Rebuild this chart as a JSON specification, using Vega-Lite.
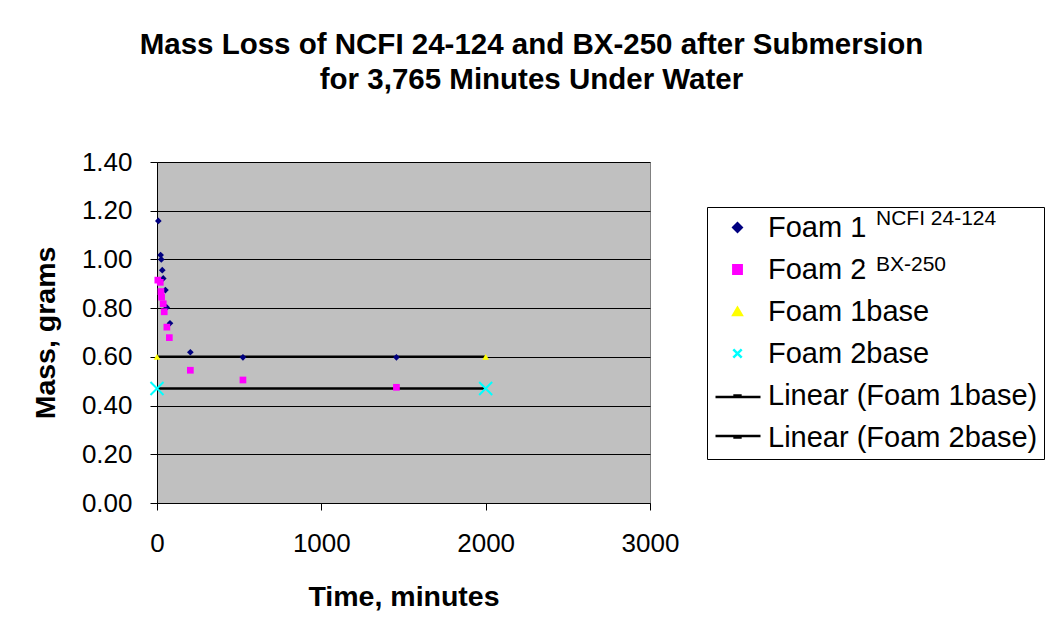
{
  "$schema": "https://vega.github.io/schema/vega-lite/v6.json",
  "width": 493,
  "height": 341,
  "autosize": {"type": "none"},
  "padding": {"left": 157, "top": 162, "right": 395, "bottom": 133},
  "background": "white",
  "config": {
    "font": "Liberation Sans",
    "view": {"stroke": "#808080", "fill": "#C0C0C0", "strokeWidth": 1}
  },
  "title": {
    "text": ["Mass Loss of NCFI 24-124 and BX-250 after Submersion", "for 3,765 Minutes Under Water"],
    "font": "Liberation Sans",
    "fontSize": 29.5,
    "fontWeight": "bold",
    "color": "black",
    "anchor": "middle",
    "dx": 128,
    "lineHeight": 35,
    "offset": 54
  },
  "data": {
    "values": [
      {"series": "Foam 1", "grade": "NCFI 24-124", "time": 8, "mass": 1.158},
      {"series": "Foam 1", "grade": "NCFI 24-124", "time": 22, "mass": 1.018},
      {"series": "Foam 1", "grade": "NCFI 24-124", "time": 26, "mass": 1.0},
      {"series": "Foam 1", "grade": "NCFI 24-124", "time": 32, "mass": 0.956},
      {"series": "Foam 1", "grade": "NCFI 24-124", "time": 38, "mass": 0.922},
      {"series": "Foam 1", "grade": "NCFI 24-124", "time": 51, "mass": 0.874},
      {"series": "Foam 1", "grade": "NCFI 24-124", "time": 59, "mass": 0.803},
      {"series": "Foam 1", "grade": "NCFI 24-124", "time": 79, "mass": 0.738},
      {"series": "Foam 1", "grade": "NCFI 24-124", "time": 203, "mass": 0.619},
      {"series": "Foam 1", "grade": "NCFI 24-124", "time": 523, "mass": 0.598},
      {"series": "Foam 1", "grade": "NCFI 24-124", "time": 1457, "mass": 0.598},
      {"series": "Foam 2", "grade": "BX-250", "time": 5, "mass": 0.915},
      {"series": "Foam 2", "grade": "BX-250", "time": 20, "mass": 0.906},
      {"series": "Foam 2", "grade": "BX-250", "time": 24, "mass": 0.868},
      {"series": "Foam 2", "grade": "BX-250", "time": 28, "mass": 0.845},
      {"series": "Foam 2", "grade": "BX-250", "time": 38, "mass": 0.818},
      {"series": "Foam 2", "grade": "BX-250", "time": 44, "mass": 0.785},
      {"series": "Foam 2", "grade": "BX-250", "time": 60, "mass": 0.722},
      {"series": "Foam 2", "grade": "BX-250", "time": 75, "mass": 0.679},
      {"series": "Foam 2", "grade": "BX-250", "time": 203, "mass": 0.545},
      {"series": "Foam 2", "grade": "BX-250", "time": 523, "mass": 0.505},
      {"series": "Foam 2", "grade": "BX-250", "time": 1457, "mass": 0.475},
      {"series": "Foam 1base", "grade": "NCFI 24-124", "time": 0, "mass": 0.6},
      {"series": "Foam 1base", "grade": "NCFI 24-124", "time": 2000, "mass": 0.6},
      {"series": "Foam 2base", "grade": "BX-250", "time": 0, "mass": 0.47},
      {"series": "Foam 2base", "grade": "BX-250", "time": 2000, "mass": 0.47},
      {"series": "Linear (Foam 1base)", "grade": "NCFI 24-124", "fit": "Foam 1base", "time": 0, "mass": 0.6},
      {"series": "Linear (Foam 1base)", "grade": "NCFI 24-124", "fit": "Foam 1base", "time": 2000, "mass": 0.6},
      {"series": "Linear (Foam 2base)", "grade": "BX-250", "fit": "Foam 2base", "time": 0, "mass": 0.47},
      {"series": "Linear (Foam 2base)", "grade": "BX-250", "fit": "Foam 2base", "time": 2000, "mass": 0.47}
    ]
  },
  "layer": [
    {
      "transform": [{"filter": "indexof(datum.series, 'Linear') === 0"}],
      "mark": {"type": "line", "strokeWidth": 2.5},
      "encoding": {
        "x": {
          "field": "time",
          "type": "quantitative",
          "scale": {"domain": [0, 3000], "nice": false},
          "axis": {
            "title": "Time, minutes",
            "values": [0, 1000, 2000, 3000],
            "format": "d",
            "grid": false,
            "labelFont": "Liberation Sans",
            "labelFontSize": 26,
            "labelColor": "black",
            "labelPadding": 20,
            "labelFlush": false,
            "tickSize": 7,
            "tickColor": "black",
            "domainColor": "black",
            "titleFont": "Liberation Sans",
            "titleFontSize": 28.5,
            "titleFontWeight": "bold",
            "titleColor": "black",
            "titlePadding": 26
          }
        },
        "y": {
          "field": "mass",
          "type": "quantitative",
          "scale": {"domain": [0, 1.4], "nice": false},
          "axis": {
            "title": "Mass, grams",
            "values": [0, 0.2, 0.4, 0.6, 0.8, 1.0, 1.2, 1.4],
            "format": ".2f",
            "grid": true,
            "gridColor": "black",
            "gridWidth": 1,
            "labelFont": "Liberation Sans",
            "labelFontSize": 26,
            "labelColor": "black",
            "labelPadding": 18,
            "labelFlush": false,
            "tickSize": 7,
            "tickColor": "black",
            "domainColor": "black",
            "titleFont": "Liberation Sans",
            "titleFontSize": 28.5,
            "titleFontWeight": "bold",
            "titleColor": "black",
            "titlePadding": 21
          }
        },
        "color": {
          "field": "series",
          "type": "nominal",
          "scale": {
            "domain": ["Foam 1", "Foam 2", "Foam 1base", "Foam 2base", "Linear (Foam 1base)", "Linear (Foam 2base)"],
            "range": ["#000080", "#FF00FF", "#FFFF00", "#00FFFF", "#000000", "#000000"]
          },
          "legend": {
            "title": null,
            "orient": "none",
            "legendX": 550,
            "legendY": 45,
            "labelFont": "Liberation Sans",
            "labelFontSize": 29,
            "labelColor": "black",
            "labelLimit": 400,
            "rowPadding": 12,
            "padding": 6,
            "symbolSize": 70,
            "symbolOffset": 10,
            "labelOffset": 16,
            "symbolStrokeWidth": 2.5,
            "strokeColor": "black",
            "fillColor": "white"
          }
        },
        "strokeDash": {
          "field": "fit",
          "type": "nominal",
          "scale": {"domain": ["Foam 1base", "Foam 2base"], "range": [[1, 0], [1, 0]]},
          "legend": {
            "title": null,
            "orient": "none",
            "legendX": 557,
            "legendY": 211,
            "symbolType": "stroke",
            "symbolSize": 2025,
            "symbolStrokeWidth": 2.5,
            "symbolStrokeColor": "black",
            "symbolOffset": 0,
            "labelExpr": "''",
            "labelOffset": 0,
            "labelFontSize": 1,
            "padding": 0,
            "rowPadding": 10
          }
        }
      }
    },
    {
      "transform": [{"filter": "indexof(datum.series, 'Linear') !== 0 && datum.series !== 'Foam 2base'"}],
      "mark": {"type": "point", "filled": true, "opacity": 1, "size": 45},
      "encoding": {
        "x": {"field": "time", "type": "quantitative"},
        "y": {"field": "mass", "type": "quantitative"},
        "color": {"field": "series", "type": "nominal"},
        "shape": {
          "field": "series",
          "type": "nominal",
          "scale": {
            "domain": ["Foam 1", "Foam 2", "Foam 1base", "Foam 2base", "Linear (Foam 1base)", "Linear (Foam 2base)"],
            "range": ["diamond", "square", "triangle-up", "M-1,-1L1,1M-1,1L1,-1", "stroke", "stroke"]
          }
        },
        "opacity": {
          "field": "grade",
          "type": "nominal",
          "scale": {"type": "ordinal", "domain": ["NCFI 24-124", "BX-250"], "range": [1, 1]},
          "legend": {
            "title": null,
            "orient": "none",
            "legendX": 698,
            "legendY": 46,
            "labelFont": "Liberation Sans",
            "labelFontSize": 21,
            "labelColor": "black",
            "labelLimit": 300,
            "symbolSize": 1,
            "symbolFillColor": "white",
            "symbolStrokeColor": "white",
            "labelOffset": 0,
            "rowPadding": 24,
            "padding": 0,
            "labelExpr": "indexof(datum.label, 'BX') === 0 ? '\u00a0\u00a0' + datum.label : datum.label"
          }
        }
      }
    },
    {
      "transform": [{"filter": "datum.series === 'Foam 2base'"}],
      "mark": {"type": "point", "filled": false, "strokeWidth": 2, "opacity": 1, "size": 170},
      "encoding": {
        "x": {"field": "time", "type": "quantitative"},
        "y": {"field": "mass", "type": "quantitative"},
        "color": {"field": "series", "type": "nominal"},
        "shape": {"field": "series", "type": "nominal"}
      }
    }
  ]
}
